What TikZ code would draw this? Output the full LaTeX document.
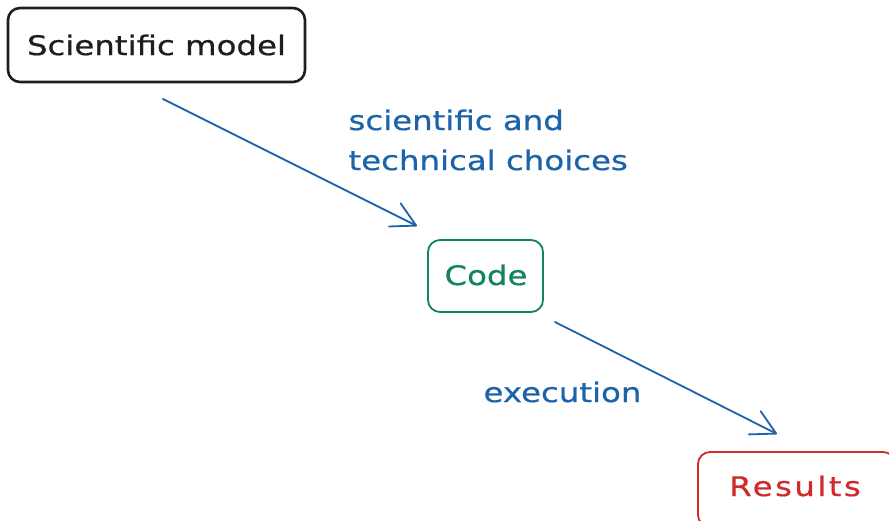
\documentclass[tikz,border=0pt]{standalone}
\usepackage{fontspec}
\setmainfont[FakeStretch=1.2, FakeBold=0.6]{DejaVu Sans}
\newfontfamily\widehand[FakeStretch=1.2, FakeBold=0.6, LetterSpace=9]{DejaVu Sans}
\usetikzlibrary{arrows.meta}
\definecolor{inkblack}{HTML}{1E1E1E}
\definecolor{inkgreen}{HTML}{13855C}
\definecolor{inkred}{HTML}{D02A2A}
\definecolor{inkblue}{HTML}{1D63AA}
\tikzset{
  card/.style={rounded corners=12pt, line width=1.8pt, fill=white},
  flow/.style={draw=inkblue, line width=1.8pt, line cap=round,
    -{Straight Barb[length=24pt, width=26pt, line width=1.8pt, round]}},
  word/.style={font=\fontsize{27}{40}\selectfont},
  note/.style={word, text=inkblue, align=left, anchor=west},
}
\begin{document}
\begin{tikzpicture}[x=1pt, y=-1pt]
  \useasboundingbox (0,0) rectangle (889,521);
  \clip (0,0) rectangle (889,521);

  % boxes
  \draw[card, draw=inkblack, line width=2.6pt] (8,8) rectangle (305,82);
  \node[word, text=inkblack] (model) at (156.5,45) {Scientific model};

  \draw[card, draw=inkgreen] (428,240) rectangle (543,312);
  \node[word, text=inkgreen] (code) at (486,275) {Code};

  \draw[card, draw=inkred] (698,452) rectangle (895,527);
  \node[word, text=inkred] (results) at (795,486) {\widehand Results};

  % connector anchors
  \coordinate (a1s) at (163,99);
  \coordinate (a1e) at (417,226);
  \coordinate (a2s) at (555,322);
  \coordinate (a2e) at (777,434);

  \draw[flow] (a1s) -- (a1e);
  \draw[flow] (a2s) -- (a2e);

  % labels
  \node[note] (choices) at (345,140) {scientific and\\technical choices};
  \node[note] (exec) at (480,392) {execution};
\end{tikzpicture}
\end{document}
